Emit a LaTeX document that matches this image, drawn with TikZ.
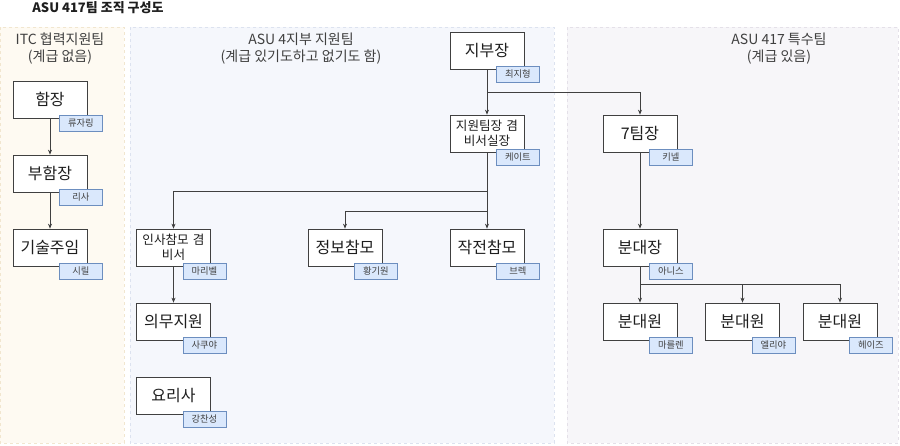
\documentclass[tikz,border=0pt]{standalone}
\usepackage{fontspec}
\setmainfont{Noto Sans CJK KR}
\usetikzlibrary{arrows.meta,calc}
\definecolor{linec}{HTML}{404040}
\definecolor{tagfill}{HTML}{DAE8FC}
\definecolor{tagline}{HTML}{6C8EBF}
\definecolor{panelA}{HTML}{FEFAF2}
\definecolor{panelAline}{HTML}{F1E6CF}
\definecolor{panelB}{HTML}{F5F7FC}
\definecolor{panelBline}{HTML}{DCE2EF}
\definecolor{panelC}{HTML}{F7F6F9}
\definecolor{panelCline}{HTML}{E4E0E8}
\definecolor{txt}{HTML}{1E1E1E}
\tikzset{
  orgbox/.style={draw=linec, fill=white, line width=0.7pt, minimum width=74pt, minimum height=37pt, inner sep=1pt, text=txt, font=\fontsize{16}{19}\selectfont, align=center, text width=72pt},
  smallbox/.style={orgbox, font=\fontsize{12.6}{15}\selectfont},
  tagbox/.style={draw=tagline, fill=tagfill, line width=0.6pt, minimum width=43pt, minimum height=16pt, inner sep=0pt, text=txt!85, font=\fontsize{9.3}{10}\selectfont},
  conn/.style={draw=linec, line width=0.7pt},
  arr/.style={conn, -{Stealth[length=5pt,width=4pt]}},
  panellabel/.style={text=txt!85, font=\fontsize{14}{17}\selectfont, align=center, inner sep=0pt},
}
\newcommand\orgnode[6][orgbox]{%
  \node[#1] (#2) at (#3) {#4};
  \node[tagbox] (#2tag) at ($(#2.south east)+(-6.5,5)$) {#6};
}
\begin{document}
\begin{tikzpicture}[x=1pt,y=-1pt]
\useasboundingbox (0,0) rectangle (900,445);
\fill[white] (0,0) rectangle (900,445);
% panels
\draw[fill=panelA, draw=panelAline, dashed, line width=0.6pt] (0,27) rectangle (124,443);
\draw[fill=panelB, draw=panelBline, dashed, line width=0.6pt] (130,27) rectangle (554,443);
\draw[fill=panelC, draw=panelCline, dashed, line width=0.6pt] (567,27) rectangle (898,443);
% title
\node[font=\bfseries\fontsize{13}{15}\selectfont, text=txt, inner sep=0pt] (title) at (98,8) {ASU 417팀 조직 구성도};
% panel labels
\node[panellabel] (labA) at (60,48.5) {ITC 협력지원팀\\(계급 없음)};
\node[panellabel] (labB) at (301,48.5) {ASU 4지부 지원팀\\(계급 있기도하고 없기도 함)};
\node[panellabel] (labC) at (779,48.5) {ASU 417 특수팀\\(계급 있음)};
% nodes
\orgnode{hamjang}{50,99.5}{함장}{}{류자링}
\orgnode{buhamjang}{50,173.5}{부함장}{}{리사}
\orgnode{gisul}{50,247.5}{기술주임}{}{시릴}
\orgnode[smallbox]{insa}{173.5,247.5}{인사참모 겸\\비서}{}{마리벨}
\orgnode{uimu}{173.5,321.5}{의무지원}{}{사쿠야}
\orgnode{yori}{173.5,395.5}{요리사}{}{강찬성}
\orgnode{jeongbo}{345,247.5}{정보참모}{}{황기원}
\orgnode{jakjeon}{487,247.5}{작전참모}{}{브렉}
\orgnode{jibu}{487,50.5}{지부장}{}{최지형}
\orgnode[smallbox]{jiwon}{487,133.5}{지원팀장 겸\\비서실장}{}{케이트}
\orgnode{teamseven}{640,133.5}{7팀장}{}{키넬}
\orgnode{bundae}{640,247.5}{분대장}{}{아니스}
\orgnode{bone}{640,321.5}{분대원}{}{마를렌}
\orgnode{btwo}{742.5,321.5}{분대원}{}{엘리야}
\orgnode{bthree}{840,321.5}{분대원}{}{헤이즈}
% junction coordinates
\coordinate (ja) at (487,92);
\coordinate (jb) at (487,191);
\coordinate (jc) at (487,211);
\coordinate (jd) at (640,284);
% connectors
\draw[arr] (hamjang.south) -- (buhamjang.north);
\draw[arr] (buhamjang.south) -- (gisul.north);
\draw[arr] (jibu.south) -- (jiwon.north);
\draw[arr] (ja) -| (teamseven.north);
\draw[arr] (jiwon.south) -- (jakjeon.north);
\draw[arr] (jb) -| (insa.north);
\draw[arr] (jc) -| (jeongbo.north);
\draw[arr] (insa.south) -- (uimu.north);
\draw[arr] (teamseven.south) -- (bundae.north);
\draw[arr] (bundae.south) -- (bone.north);
\draw[arr] (jd) -| (btwo.north);
\draw[arr] (jd) -| (bthree.north);
% redraw tags on top of connectors
\foreach \n/\t in {hamjang/류자링,buhamjang/리사,gisul/시릴,insa/마리벨,uimu/사쿠야,yori/강찬성,jeongbo/황기원,jakjeon/브렉,jibu/최지형,jiwon/케이트,teamseven/키넬,bundae/아니스,bone/마를렌,btwo/엘리야,bthree/헤이즈}
  \node[tagbox] at (\n tag) {\t};
\end{tikzpicture}
\end{document}
